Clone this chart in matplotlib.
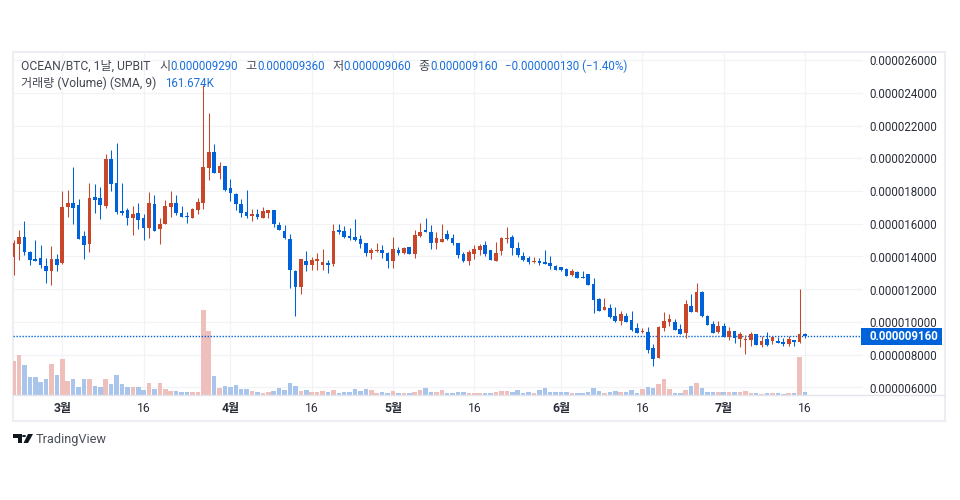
import matplotlib
matplotlib.use("Agg")
import matplotlib.pyplot as plt
from matplotlib.patches import Polygon, Circle, Rectangle
from matplotlib.lines import Line2D

FONT = ['Roboto', 'Noto Sans CJK KR', 'DejaVu Sans']
plt.rcParams['font.family'] = FONT

# Daily candles, prices in units of 0.000001 BTC
opens = [14.01,14.78,15.21,14.29,13.87,13.93,13.44,13.13,13.87,13.62,
 17.04,17.28,17.16,15.27,14.78,17.65,17.59,17.10,19.96,18.50,
 16.79,16.85,16.37,16.67,16.37,15.76,17.22,15.70,16.00,17.04,
 17.28,16.67,16.49,16.37,16.85,17.28,19.42,20.39,19.11,19.54,
 18.20,17.83,17.22,16.73,16.49,16.61,16.37,16.67,16.85,15.94,
 15.57,15.09,13.13,12.16,13.74,13.50,13.74,13.50,13.62,13.56,
 15.63,15.57,15.27,15.21,15.09,14.84,14.23,14.35,14.41,14.23,
 13.74,14.41,14.23,14.60,14.17,15.27,15.63,15.51,14.84,14.90,
 15.39,15.15,14.84,14.17,13.74,14.17,14.41,14.72,14.41,13.74,
 14.35,15.09,15.21,14.54,14.05,13.93,13.68,13.74,13.68,13.62,
 13.44,13.38,13.26,12.89,13.07,12.77,12.95,12.34,11.43,10.76,
 10.88,10.39,10.09,10.39,10.15,9.66,9.41,9.41,8.44,7.83,
 9.66,10.03,10.03,9.60,9.35,11.00,10.63,11.85,10.39,9.90,
 9.41,9.78,9.11,9.48,8.99,8.93,8.93,9.29,8.62,8.99,
 8.87,8.87,8.81,8.68,8.93,8.81,9.29]
highs = [15.03,15.63,16.18,14.35,15.03,14.72,13.93,14.66,14.17,18.01,
 18.07,19.48,17.52,15.57,18.50,18.44,18.26,20.27,20.51,20.94,
 18.50,16.98,17.10,17.28,16.61,17.95,17.77,16.37,17.46,18.01,
 17.77,17.10,16.73,16.98,17.59,24.48,22.77,20.88,19.78,19.54,
 18.74,17.89,17.52,18.07,16.92,16.92,17.04,16.85,16.85,16.12,
 15.94,15.39,13.19,13.87,14.35,13.99,14.23,14.48,13.80,16.00,
 16.00,15.88,15.76,16.30,15.33,14.84,14.54,14.84,14.72,14.29,
 15.21,14.60,14.60,14.60,15.63,16.06,16.36,15.94,15.51,16.00,
 15.63,15.39,14.84,14.29,14.41,14.72,14.78,14.96,14.41,14.90,
 15.21,15.82,15.33,14.90,14.29,14.05,13.99,13.93,14.41,14.05,
 13.50,13.38,13.32,13.26,13.13,13.13,12.95,12.71,11.49,11.49,
 11.12,10.94,10.70,10.57,10.70,9.96,9.66,9.72,8.68,9.78,
 10.63,10.51,10.21,9.90,11.37,11.73,12.40,11.92,10.45,10.09,
 10.09,9.96,9.72,9.48,9.41,9.23,9.41,9.29,9.17,9.41,
 9.11,9.11,9.05,9.17,8.93,12.04,9.36]
lows = [12.89,13.81,14.11,13.50,13.74,13.32,12.40,12.28,13.13,13.56,
 16.43,16.00,15.09,13.87,14.29,16.67,16.31,16.98,18.01,16.61,
 16.55,15.94,15.33,15.70,15.03,15.15,15.57,14.78,16.00,16.43,
 16.55,16.43,16.06,16.37,16.61,16.92,18.68,19.11,18.74,18.01,
 17.40,16.85,16.43,16.37,16.18,16.31,16.37,16.37,15.82,15.63,
 15.09,12.10,10.39,11.73,13.13,13.19,13.19,13.19,13.01,13.44,
 15.39,15.15,15.02,14.96,14.54,14.05,13.87,14.29,13.93,13.32,
 13.32,14.11,14.17,14.17,13.93,15.21,15.51,14.48,14.48,14.90,
 15.02,14.72,13.93,13.68,13.50,13.87,14.11,14.05,13.80,13.74,
 14.11,14.84,14.11,13.99,13.74,13.56,13.62,13.50,13.56,13.26,
 13.19,13.13,12.83,12.83,12.71,12.71,12.28,10.57,10.70,10.76,
 10.27,10.03,9.84,10.03,9.48,9.35,9.35,8.13,7.34,7.83,
 9.48,9.78,9.54,9.29,9.05,10.63,10.63,10.33,9.84,9.35,
 9.35,9.11,8.93,8.74,8.50,8.07,8.56,8.62,8.50,8.56,
 8.68,8.74,8.56,8.56,8.56,8.74,9.06]
closes = [14.82,15.21,14.29,13.81,13.74,13.50,13.13,13.87,13.50,17.04,
 17.28,16.98,15.09,14.72,17.59,17.46,17.16,19.96,18.44,16.73,
 16.67,16.37,16.61,16.24,15.76,17.28,15.57,16.00,17.10,17.28,
 16.67,16.43,16.43,16.92,17.34,19.48,20.39,19.11,19.54,18.07,
 17.89,17.22,16.67,16.49,16.61,16.43,16.79,16.85,16.00,15.63,
 15.15,13.20,12.16,13.87,13.50,13.80,13.87,13.68,13.50,15.57,
 15.51,15.21,15.15,15.02,14.78,14.23,14.41,14.41,14.23,13.74,
 14.48,14.23,14.54,14.17,15.33,15.51,15.51,14.84,15.15,15.09,
 15.09,14.84,14.11,13.74,14.29,14.48,14.66,14.17,13.80,14.23,
 15.15,15.15,14.54,14.11,13.80,13.68,13.74,13.62,13.56,13.44,
 13.19,13.19,12.83,13.13,12.71,12.71,12.28,11.37,10.70,10.94,
 10.33,10.09,10.51,10.03,9.54,9.35,9.48,8.32,7.77,9.72,
 10.09,10.21,9.54,9.29,11.12,10.63,11.85,10.39,9.84,9.35,
 9.78,9.11,9.48,9.05,9.29,8.99,9.29,8.62,8.87,8.62,
 9.11,8.74,8.68,8.99,8.81,9.29,9.16]
# Volume in thousands
volumes = [340,400,300,180,180,130,160,310,200,360,
 140,160,80,160,160,90,80,160,110,200,
 110,80,80,80,50,120,60,120,60,40,
 40,30,30,30,30,850,640,190,70,90,
 80,100,60,60,40,30,20,30,40,70,
 50,120,90,40,50,30,30,40,30,50,
 20,30,30,60,40,60,50,20,30,20,
 40,20,20,20,30,50,70,30,30,50,
 20,20,30,30,20,20,20,20,20,30,
 40,40,30,50,20,30,20,50,70,30,
 30,30,30,20,20,20,30,70,40,20,
 30,40,30,30,50,20,60,80,70,110,
 160,60,20,20,50,90,120,70,30,30,
 30,30,30,30,30,40,20,20,10,20,
 20,20,10,20,20,380,30]

price_ticks = [6, 8, 10, 12, 14, 16, 18, 20, 22, 24, 26]
time_ticks = [9, 24, 40, 55, 70, 85, 101, 116, 131, 146]
time_labels = ['3월', '16', '4월', '16', '5월', '16', '6월', '16', '7월', '16']
last_price = 9.16

UP = '#C8472B'
DOWN = '#0062DB'
UP_VOL = '#EFBFBB'
DOWN_VOL = '#A9C5EB'
GRID = '#F2F3F7'
EDGE = '#EDEEF3'
TXT = '#2A2E39'
VAL = '#1A6FDC'
NUM_SIZE = 8.3

W, H = 960, 500
fig = plt.figure(figsize=(W / 100, H / 100), dpi=100, facecolor='white')
def box(x0, y0, x1, y1):
    return [x0 / W, 1 - y1 / H, (x1 - x0) / W, (y1 - y0) / H]
def fx(x): return x / W
def fy(y): return 1 - y / H

L, T, R, B = 13.0, 52.0, 863.0, 395.0
ax = fig.add_axes(box(L, T, R, B), zorder=2)
ax.patch.set_alpha(0)
xs = list(range(len(closes)))
ax.set_xlim(-0.1, 156.7)
ax.set_ylim(5.57, 26.49)

vax = fig.add_axes(box(L, T, R, 394.5), zorder=1)
vax.set_xlim(ax.get_xlim())
vax.set_ylim(0, 3425)
vax.axis('off')
vol_colors = [UP_VOL if c >= o else DOWN_VOL for o, c in zip(opens, closes)]
vax.bar(xs, volumes, width=0.84, color=vol_colors, linewidth=0, zorder=2)
for t in time_ticks:
    vax.axvline(t, color=GRID, lw=0.9, zorder=1)
for p in price_ticks:
    vax.axhline((p - 5.57) / (26.49 - 5.57) * 3425, color=GRID, lw=0.9, zorder=1)

colors = [UP if c >= o else DOWN for o, c in zip(opens, closes)]
ax.vlines(xs, lows, highs, colors=colors, lw=0.75, zorder=3)
ax.bar(xs, [abs(c - o) for o, c in zip(opens, closes)],
       bottom=[min(o, c) for o, c in zip(opens, closes)],
       width=0.68, color=colors, linewidth=0, zorder=4)
ax.axhline(last_price, color=DOWN, lw=1.0, ls=(0, (1, 1.15)), zorder=2)

for s in ax.spines.values():
    s.set_visible(False)
ax.yaxis.tick_right()
ax.set_yticks(price_ticks)
ax.set_yticklabels([f'{p / 1e6:.9f}' for p in price_ticks], fontsize=NUM_SIZE, color=TXT)
ax.tick_params(axis='y', length=0, pad=4.3)
ax.set_xticks(time_ticks)
ax.set_xticklabels(time_labels, fontsize=8.7, color=TXT)
ax.tick_params(axis='x', length=0, pad=5.2)
for lab in ax.get_xticklabels():
    if lab.get_text().endswith('월'):
        lab.set_fontweight('bold')

# Outer frame and time-axis separator
fig.add_artist(Rectangle((fx(12.5), fy(421)), (945 - 12.5) / W, (421 - 52) / H,
                         transform=fig.transFigure, fill=False, ec=EDGE, lw=1.5))
fig.add_artist(Line2D([fx(13), fx(945)], [fy(395)] * 2, color='#E3E5EC', lw=1.0,
                      transform=fig.transFigure))

# Last price tag
fig.add_artist(Rectangle((fx(861), fy(345)), 81 / W, 17 / H, transform=fig.transFigure,
                         fc='#0063DA', ec='none', zorder=5))
fig.text(fx(869), fy(336.7), f'{last_price / 1e6:.9f}', color='white', fontsize=NUM_SIZE,
         fontweight='bold', va='center', ha='left', zorder=6)

# Header legend
def label(x, y, s, color=TXT, size=8.7):
    fig.text(fx(x), fy(y), s, color=color, fontsize=size, va='center', ha='left', zorder=7)

label(21, 66.7, 'OCEAN/BTC, 1날, UPBIT', '#444853')
label(159, 66.7, '시', '#444853')
label(170, 66.7, '0.000009290', VAL, NUM_SIZE)
label(245, 66.7, '고', '#444853')
label(257, 66.7, '0.000009360', VAL, NUM_SIZE)
label(332, 66.7, '저', '#444853')
label(343, 66.7, '0.000009060', VAL, NUM_SIZE)
label(418, 66.7, '종', '#444853')
label(430, 66.7, '0.000009160', VAL, NUM_SIZE)
label(505, 66.7, '−0.000000130 (−1.40%)', VAL, NUM_SIZE)
label(21, 83.7, '거래량 (Volume) (SMA, 9)', '#444853')
label(165, 83.7, '161.674K', VAL, NUM_SIZE)

# TradingView mark
def poly(points):
    fig.add_artist(Polygon([(fx(x), fy(y)) for x, y in points], closed=True, fc='#131722',
                           ec='none', transform=fig.transFigure, zorder=7))
poly([(13, 434), (21.5, 434), (21.5, 443), (17.5, 443), (17.5, 438), (13, 438)])
fig.add_artist(Circle((fx(24), fy(436)), 2.0 / W, fc='#131722', ec='none',
                      transform=fig.transFigure, zorder=7))
poly([(28, 434), (33, 434), (28, 443), (23.5, 443)])
fig.text(fx(36), fy(439.5), 'TradingView', color='#4A4E59', fontsize=9.2,
         va='center', ha='left', zorder=7)

fig.savefig('out.png', dpi=100, facecolor='white')
